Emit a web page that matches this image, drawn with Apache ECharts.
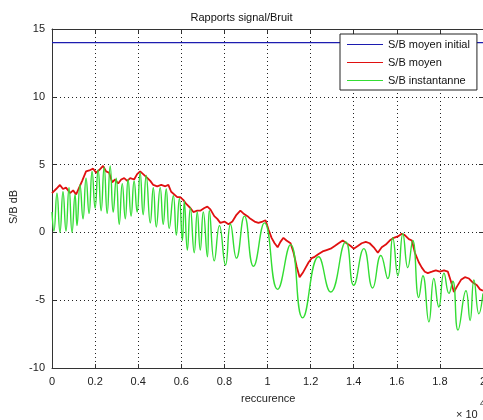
<!DOCTYPE html>
<html>
<head>
<meta charset="utf-8">
<script src="https://cdn.jsdelivr.net/npm/echarts@6/dist/echarts.min.js"></script>
<style>
html,body{margin:0;padding:0;background:#fff;overflow:hidden;}
#chart{width:483px;height:420px;}
</style>
</head>
<body>
<div id="chart"></div>
<script>
// x values in units of 10^4 occurrences
const xTicks = [0, 0.2, 0.4, 0.6, 0.8, 1, 1.2, 1.4, 1.6, 1.8, 2];
const yTicks = [-10, -5, 0, 5, 10, 15];
const seriesNames = ['S/B moyen initial', 'S/B moyen', 'S/B instantanne'];

const initialX = [0, 2];
const initialY = [14, 14];

const meanX = [0.000,0.019,0.037,0.051,0.065,0.084,0.098,0.112,0.126,0.140,0.158,0.177,0.191,0.205,0.219,0.237,0.251,0.265,0.279,0.293,0.307,0.321,0.335,0.349,0.363,0.381,0.395,0.409,0.423,0.437,0.456,0.470,0.488,0.507,0.526,0.540,0.553,0.567,0.581,0.595,0.609,0.623,0.642,0.656,0.674,0.688,0.707,0.721,0.735,0.753,0.767,0.781,0.800,0.819,0.837,0.856,0.874,0.888,0.907,0.921,0.940,0.958,0.977,0.991,1.005,1.019,1.033,1.047,1.060,1.074,1.088,1.107,1.121,1.135,1.149,1.163,1.177,1.191,1.205,1.219,1.237,1.256,1.274,1.293,1.312,1.330,1.349,1.367,1.386,1.400,1.419,1.437,1.456,1.474,1.493,1.512,1.530,1.549,1.567,1.586,1.605,1.623,1.637,1.656,1.670,1.684,1.702,1.716,1.730,1.744,1.763,1.781,1.800,1.819,1.837,1.851,1.865,1.879,1.898,1.916,1.935,1.953,1.972,1.986,2.000];
const meanY = [2.9,3.2,3.5,3.2,3.3,2.9,3.1,2.8,3.3,3.8,4.5,4.6,4.7,4.4,4.6,4.9,4.5,4.4,3.7,3.9,3.6,3.9,4.0,3.8,4.0,3.9,4.3,4.5,4.3,4.1,3.8,3.5,3.4,3.5,3.4,3.5,3.0,2.8,2.6,2.6,2.4,2.1,1.8,1.5,1.6,1.6,1.8,1.9,1.7,1.2,1.0,0.7,0.8,0.6,0.8,1.3,1.6,1.4,1.2,1.0,0.8,0.7,0.8,0.9,0.2,-0.4,-0.8,-1.1,-0.7,-0.4,-0.6,-0.8,-1.5,-2.5,-3.3,-3.0,-2.6,-2.2,-1.9,-1.8,-1.6,-1.4,-1.3,-1.2,-1.0,-0.8,-0.6,-0.8,-1.0,-1.2,-1.0,-0.8,-0.7,-0.8,-1.1,-1.5,-1.1,-0.9,-0.6,-0.4,-0.3,-0.1,-0.2,-0.5,-0.6,-1.5,-2.2,-2.6,-2.9,-3.0,-2.9,-2.8,-2.9,-2.8,-2.9,-3.6,-4.4,-4.0,-3.5,-3.3,-3.4,-3.7,-3.9,-4.2,-4.3];

const instX = [0.000,0.009,0.023,0.037,0.051,0.065,0.079,0.093,0.107,0.116,0.130,0.144,0.158,0.172,0.186,0.200,0.214,0.228,0.242,0.256,0.270,0.284,0.298,0.312,0.326,0.340,0.353,0.367,0.381,0.395,0.409,0.423,0.437,0.456,0.470,0.484,0.502,0.516,0.530,0.544,0.563,0.577,0.591,0.605,0.614,0.628,0.642,0.660,0.674,0.688,0.702,0.721,0.730,0.753,0.777,0.805,0.828,0.856,0.893,0.935,0.986,1.047,1.107,1.163,1.237,1.293,1.363,1.400,1.447,1.488,1.526,1.558,1.581,1.605,1.628,1.651,1.674,1.702,1.721,1.749,1.772,1.795,1.819,1.842,1.860,1.884,1.921,1.940,1.958,1.981,2.000];
const instY = [1.5,0.1,2.9,0.0,3.0,0.1,3.3,0.0,2.8,0.5,3.5,1.0,4.0,1.4,4.5,1.8,4.6,1.6,4.8,1.4,4.9,1.5,4.0,0.6,3.6,1.0,3.9,1.2,3.8,1.5,4.4,1.3,4.2,0.7,3.3,0.4,3.3,0.6,3.2,0.3,2.7,-0.2,2.5,-0.6,2.3,-1.3,1.8,-1.5,1.5,-1.3,1.5,-1.8,1.6,-2.1,0.5,-2.4,0.6,-1.9,1.2,-2.5,0.7,-4.2,-0.9,-6.3,-1.8,-4.4,-0.7,-3.9,-1.2,-4.1,-1.7,-3.4,-0.4,-3.2,-0.1,-2.6,-0.6,-4.8,-3.2,-6.6,-3.4,-5.5,-3.0,-4.5,-3.6,-7.2,-4.3,-6.5,-3.5,-6.0,-4.5];

const zip = (xs, ys) => xs.map((x, i) => [x, ys[i]]);
const FONT = 'Liberation Sans, Arial, sans-serif';
const chart = echarts.init(document.getElementById('chart'), null, {renderer: 'canvas'});

const fmt = v => String(Math.round(v * 10) / 10);

chart.setOption({
  animation: false,
  backgroundColor: '#ffffff',
  grid: {left: 52, right: 0, top: 29, bottom: 52, containLabel: false, outerBoundsMode: 'none'},
  title: {
    text: 'Rapports signal/Bruit',
    left: 'center', top: 7,
    textStyle: {fontFamily: FONT, fontSize: 11, fontWeight: 'normal', color: '#111'}
  },
  legend: {
    data: seriesNames,
    orient: 'vertical',
    left: 340, top: 34,
    padding: [4, 7, 3, 7],
    itemGap: 5,
    itemWidth: 36, itemHeight: 1,
    icon: 'rect',
    selectedMode: false,
    backgroundColor: '#ffffff',
    borderColor: '#222', borderWidth: 1,
    textStyle: {fontFamily: FONT, fontSize: 11, color: '#111', lineHeight: 13}
  },
  xAxis: [{
    type: 'value', min: 0, max: 2, interval: 0.2,
    axisLine: {show: true, onZero: false, lineStyle: {color: '#333', width: 1}},
    axisTick: {show: true, inside: true, length: 4, lineStyle: {color: '#333'}},
    axisLabel: {fontFamily: FONT, fontSize: 11, color: '#222', margin: 8, formatter: fmt, showMaxLabel: true},
    splitLine: {show: true, lineStyle: {color: '#222', type: [1, 3], width: 1}}
  }, {
    type: 'value', min: 0, max: 2, interval: 0.2, position: 'top',
    axisLine: {show: true, onZero: false, lineStyle: {color: '#333', width: 1}},
    axisTick: {show: true, inside: true, length: 4, lineStyle: {color: '#333'}},
    axisLabel: {show: false}, splitLine: {show: false}
  }],
  yAxis: [{
    type: 'value', min: -10, max: 15, interval: 5,
    axisLine: {show: true, onZero: false, lineStyle: {color: '#333', width: 1}},
    axisTick: {show: true, inside: true, length: 4, lineStyle: {color: '#333'}},
    axisLabel: {fontFamily: FONT, fontSize: 11, color: '#222', margin: 7, formatter: fmt},
    splitLine: {show: true, lineStyle: {color: '#222', type: [1, 3], width: 1}}
  }, {
    type: 'value', min: -10, max: 15, interval: 5, position: 'right',
    axisLine: {show: true, onZero: false, lineStyle: {color: '#333', width: 1}},
    axisTick: {show: true, inside: true, length: 4, lineStyle: {color: '#333'}},
    axisLabel: {show: false}, splitLine: {show: false}
  }],
  series: [
    {name: seriesNames[0], type: 'line', data: zip(initialX, initialY), symbol: 'none',
     lineStyle: {color: '#1c1cb0', width: 1.2}, itemStyle: {color: '#1c1cb0'}},
    {name: seriesNames[1], type: 'line', data: zip(meanX, meanY), symbol: 'none',
     lineStyle: {color: '#e01010', width: 1.8}, itemStyle: {color: '#e01010'}},
    {name: seriesNames[2], type: 'line', data: zip(instX, instY), symbol: 'none', smooth: 0.5,
     lineStyle: {color: '#33dd33', width: 1.4}, itemStyle: {color: '#33dd33'}}
  ],
  graphic: [
    {type: 'text', left: 241, top: 393, style: {text: 'reccurence', font: '11px ' + FONT, fill: '#222'}},
    {type: 'text', x: 14, y: 207, rotation: Math.PI / 2,
     style: {text: 'S/B dB', font: '11px ' + FONT, fill: '#222', align: 'center', verticalAlign: 'middle'}},
    {type: 'text', left: 456, top: 409, style: {text: '\u00d7 10', font: '11px ' + FONT, fill: '#222'}},
    {type: 'text', left: 480, top: 399, style: {text: '4', font: '9px ' + FONT, fill: '#222'}}
  ]
});
</script>
</body>
</html>
